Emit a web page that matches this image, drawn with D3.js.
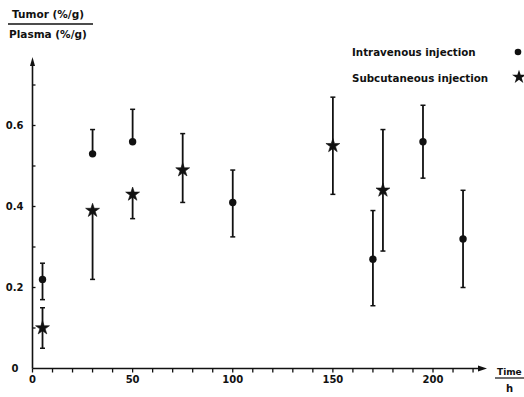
<!DOCTYPE html>
<html><head><meta charset="utf-8">
<script src="https://cdn.jsdelivr.net/npm/d3@7"></script>
<style>
body{margin:0;background:#fff;}
text{font-family:"DejaVu Sans","Liberation Sans",Arial,sans-serif;font-weight:bold;fill:#111;}
</style></head>
<body><svg id="c" width="524" height="397"></svg>
<script>
// Intravenous injection (circles)
const ivTime = [5, 30, 50, 100, 170, 195, 215];
const ivMean = [0.22, 0.53, 0.56, 0.41, 0.27, 0.56, 0.32];
const ivHigh = [0.26, 0.59, 0.64, 0.49, 0.39, 0.65, 0.44];
const ivLow  = [0.17, 0.53, 0.56, 0.325, 0.155, 0.47, 0.20];
// Subcutaneous injection (stars)
const scTime = [5, 30, 50, 75, 150, 175];
const scMean = [0.10, 0.39, 0.43, 0.49, 0.55, 0.44];
const scHigh = [0.15, 0.39, 0.43, 0.58, 0.67, 0.59];
const scLow  = [0.05, 0.22, 0.37, 0.41, 0.43, 0.29];
const xTickLabels = [0, 50, 100, 150, 200];
const yTickLabels = [0.2, 0.4, 0.6];

const svg = d3.select("#c");
const x = d3.scaleLinear().domain([0, 200]).range([32.5, 433]);
const y = d3.scaleLinear().domain([0, 0.6]).range([368.5, 125.5]);

// axes
const xAxisG = svg.append("g").attr("transform", `translate(0,${y(0)})`);
xAxisG.append("line").attr("x1", x(0)).attr("x2", 481).attr("stroke", "#111").attr("stroke-width", 1.6);
xAxisG.append("path").attr("d", "M487,0 L478,-3 L478,3 Z").attr("fill", "#111");
xAxisG.selectAll("line.t").data(d3.range(0, 230, 10)).join("line").attr("class", "t")
  .attr("x1", d => x(d)).attr("x2", d => x(d)).attr("y1", 0).attr("y2", 4)
  .attr("stroke", "#111").attr("stroke-width", 1.3);
xAxisG.selectAll("text").data(xTickLabels).join("text")
  .attr("x", d => x(d)).attr("y", 14).attr("text-anchor", "middle")
  .attr("font-size", 10).text(d => d);

const yAxisG = svg.append("g").attr("transform", `translate(${x(0)},0)`);
yAxisG.append("line").attr("y1", y(0)).attr("y2", 64).attr("stroke", "#111").attr("stroke-width", 1.6);
yAxisG.append("path").attr("d", "M0,57 L-2.5,66 L2.5,66 Z").attr("fill", "#111");
yAxisG.selectAll("line.t").data(d3.range(0.1, 0.75, 0.1)).join("line").attr("class", "t")
  .attr("x1", 0).attr("x2", 3).attr("y1", d => y(d)).attr("y2", d => y(d))
  .attr("stroke", "#111").attr("stroke-width", 1.3);
yAxisG.selectAll("text").data(yTickLabels).join("text")
  .attr("x", -9).attr("y", d => y(d)).attr("dy", "0.35em").attr("text-anchor", "end")
  .attr("font-size", 10).text(d => d.toFixed(1));
yAxisG.append("text").attr("x", -14).attr("y", y(0)).attr("dy", "0.35em")
  .attr("text-anchor", "end").attr("font-size", 10).text("0");

// y-axis title (fraction)
svg.append("text").attr("x", 12).attr("y", 18).attr("font-size", 10.5).text("Tumor (%/g)");
svg.append("line").attr("x1", 8).attr("x2", 93).attr("y1", 24).attr("y2", 24).attr("stroke", "#111").attr("stroke-width", 1.3);
svg.append("text").attr("x", 9).attr("y", 38).attr("font-size", 10.5).text("Plasma (%/g)");

// x-axis title (fraction)
svg.append("text").attr("x", 497).attr("y", 375).attr("font-size", 9).text("Time");
svg.append("line").attr("x1", 495).attr("x2", 524).attr("y1", 378).attr("y2", 378).attr("stroke", "#111").attr("stroke-width", 1.2);
svg.append("text").attr("x", 506).attr("y", 392).attr("font-size", 10).text("h");

const star = d3.symbol().type(d3.symbolStar).size(60);

function bars(times, means, lows, highs) {
  const g = svg.append("g").attr("stroke", "#111");
  times.forEach((t, i) => {
    const cx = x(t);
    g.append("line").attr("x1", cx).attr("x2", cx).attr("y1", y(lows[i])).attr("y2", y(highs[i])).attr("stroke-width", 1.8);
    if (highs[i] > means[i] + 0.01)
      g.append("line").attr("x1", cx - 2.5).attr("x2", cx + 2.5).attr("y1", y(highs[i])).attr("y2", y(highs[i])).attr("stroke-width", 1.5);
    if (lows[i] < means[i] - 0.01)
      g.append("line").attr("x1", cx - 2.5).attr("x2", cx + 2.5).attr("y1", y(lows[i])).attr("y2", y(lows[i])).attr("stroke-width", 1.5);
  });
}
bars(ivTime, ivMean, ivLow, ivHigh);
bars(scTime, scMean, scLow, scHigh);

svg.append("g").selectAll("circle").data(ivTime).join("circle")
  .attr("cx", d => x(d)).attr("cy", (d, i) => y(ivMean[i])).attr("r", 3.7).attr("fill", "#111");
svg.append("g").selectAll("path").data(scTime).join("path")
  .attr("d", star).attr("transform", (d, i) => `translate(${x(d)},${y(scMean[i])})`)
  .attr("fill", "#111").attr("stroke", "#111").attr("stroke-width", 0.6);

// legend
svg.append("text").attr("x", 352).attr("y", 52).attr("dy", "0.35em").attr("font-size", 10.3).text("Intravenous injection");
svg.append("circle").attr("cx", 518).attr("cy", 52).attr("r", 3.3).attr("fill", "#111");
svg.append("text").attr("x", 352).attr("y", 78).attr("dy", "0.35em").attr("font-size", 10.3).text("Subcutaneous injection");
svg.append("path").attr("d", star).attr("transform", "translate(519,77)").attr("fill", "#111");
</script></body></html>
